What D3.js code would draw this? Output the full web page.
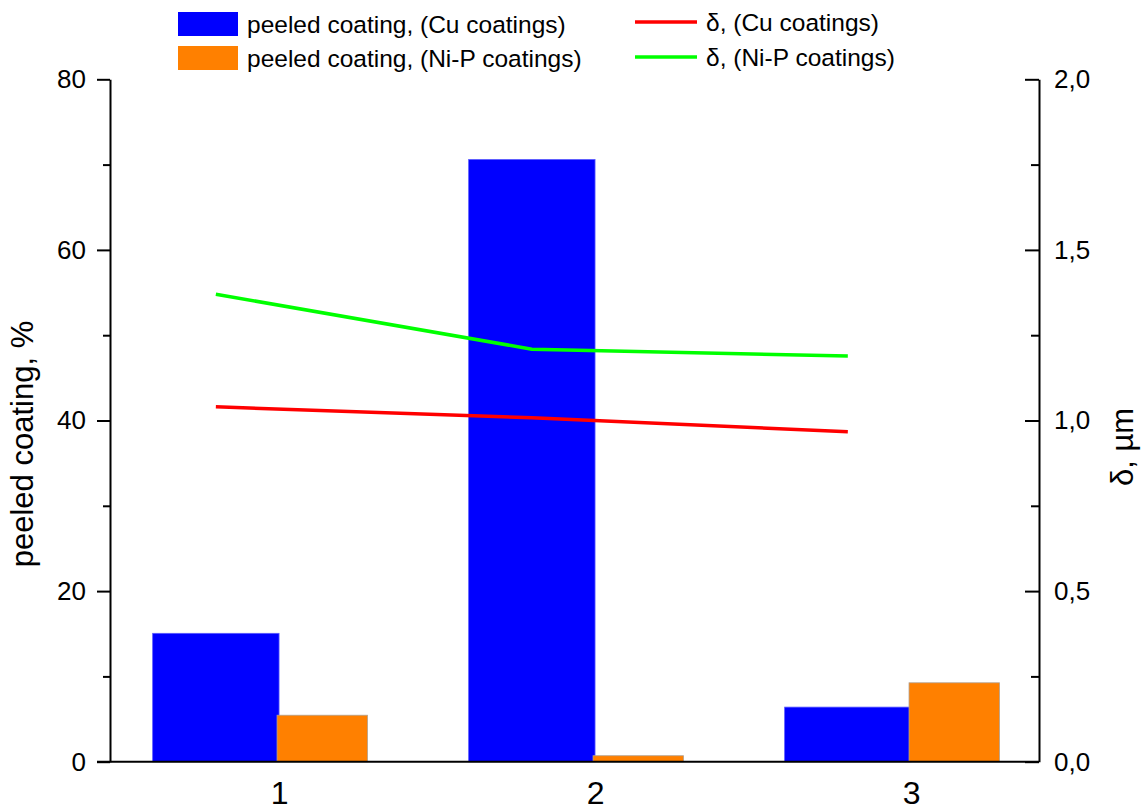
<!DOCTYPE html>
<html>
<head>
<meta charset="utf-8">
<script src="https://cdn.jsdelivr.net/npm/d3@7"></script>
<style>
  body { margin: 0; background: #fff; }
  svg { display: block; font-family: "Liberation Sans", Arial, sans-serif; }
  .axis path, .axis line { stroke: #000; stroke-width: 2; }
  .axis text { fill: #000; }
</style>
</head>
<body>
<svg width="1145" height="812"></svg>
<script>
// data
var categories = [1, 2, 3];
var peeledCu = [15.05, 70.6, 6.4];     // %
var peeledNiP = [5.45, 0.7, 9.25];     // %
var deltaCu = [1.04, 1.008, 0.967];    // µm
var deltaNiP = [1.37, 1.209, 1.189];   // µm
var leftTicks = [0, 20, 40, 60, 80];
var leftMinor = [10, 30, 50, 70];
var rightTicks = [0, 0.5, 1.0, 1.5, 2.0];
var rightMinor = [0.25, 0.75, 1.25, 1.75];

var svg = d3.select("svg"),
    pLeft = 110, pRight = 1039, pTop = 79.3, pBottom = 761.7;

var x = d3.scaleLinear().domain([0.465, 3.405]).range([pLeft, pRight]),
    y = d3.scaleLinear().domain([0, 80]).range([pBottom, pTop]),
    y2 = d3.scaleLinear().domain([0, 2]).range([pBottom, pTop]);

var comma = function(d) { return d3.format(".1f")(d).replace(".", ","); };

// bars
var blueW = 0.4, orangeW = 0.28;
svg.append("g").selectAll("rect.cu")
  .data(categories)
  .enter().append("rect")
    .attr("x", function(d) { return x(d - blueW); })
    .attr("width", function(d) { return x(d) - x(d - blueW); })
    .attr("y", function(d, i) { return y(peeledCu[i]); })
    .attr("height", function(d, i) { return y(0) - y(peeledCu[i]); })
    .attr("fill", "#0000ff")
    .attr("stroke", "#5a5aff").attr("stroke-width", 0.8);

svg.append("g").selectAll("rect.nip")
  .data(categories)
  .enter().append("rect")
    .attr("x", function(d) { return x(d) - 2; })
    .attr("width", function(d) { return x(d + orangeW) - x(d) + 2; })
    .attr("y", function(d, i) { return y(peeledNiP[i]); })
    .attr("height", function(d, i) { return y(0) - y(peeledNiP[i]); })
    .attr("fill", "#ff8000")
    .attr("stroke", "#b0a090").attr("stroke-width", 0.8);

// lines at blue bar centres
var line = function(vals) {
  return d3.line()
    .x(function(d) { return x(d - blueW / 2); })
    .y(function(d, i) { return y2(vals[i]); })(categories);
};
svg.append("path").attr("d", line(deltaNiP))
  .attr("fill", "none").attr("stroke", "#00ff00").attr("stroke-width", 3.5);
svg.append("path").attr("d", line(deltaCu))
  .attr("fill", "none").attr("stroke", "#ff0000").attr("stroke-width", 3.5);

// left axis
var gl = svg.append("g").attr("class", "axis")
  .attr("transform", "translate(" + pLeft + ",0)")
  .call(d3.axisLeft(y).tickValues(leftTicks).tickSize(13).tickPadding(11).tickSizeOuter(0));
gl.selectAll("text").style("font-size", "26px");
svg.append("g").attr("class", "axis")
  .attr("transform", "translate(" + pLeft + ",0)")
  .call(d3.axisLeft(y).tickValues(leftMinor).tickSize(7).tickFormat("").tickSizeOuter(0))
  .select(".domain").remove();

// right axis, ticks inward
var gr = svg.append("g").attr("class", "axis")
  .attr("transform", "translate(" + pRight + ",0)")
  .call(d3.axisRight(y2).tickValues(rightTicks).tickSize(-14).tickPadding(15)
    .tickFormat(comma).tickSizeOuter(0));
gr.selectAll("text").style("font-size", "26px");
svg.append("g").attr("class", "axis")
  .attr("transform", "translate(" + pRight + ",0)")
  .call(d3.axisRight(y2).tickValues(rightMinor).tickSize(-8).tickFormat("").tickSizeOuter(0))
  .select(".domain").remove();

// bottom axis
var gb = svg.append("g").attr("class", "axis")
  .attr("transform", "translate(0," + pBottom + ")")
  .call(d3.axisBottom(x).tickValues(categories).tickSize(0).tickPadding(20)
    .tickFormat(d3.format("d")).tickSizeOuter(0));
gb.select(".domain").attr("d", "M" + (pLeft - 13) + ",0H" + pRight);
gb.selectAll("text").style("font-size", "32px").attr("dy", "0.71em");

// axis titles
svg.append("text")
  .attr("transform", "translate(33,444) rotate(-90)")
  .attr("text-anchor", "middle")
  .style("font-size", "31px")
  .text("peeled coating, %");
svg.append("text")
  .attr("transform", "translate(1133,447) rotate(-90)")
  .attr("text-anchor", "middle")
  .style("font-size", "31px")
  .text("\u03b4, \u00b5m");

// legend
var barLegend = [
  {label: "peeled coating, (Cu coatings)", color: "#0000ff"},
  {label: "peeled coating, (Ni-P coatings)", color: "#ff8000"}
];
var lineLegend = [
  {label: "\u03b4, (Cu coatings)", color: "#ff0000"},
  {label: "\u03b4, (Ni-P coatings)", color: "#00ff00"}
];
var lg = svg.append("g").selectAll("g").data(barLegend).enter().append("g")
  .attr("transform", function(d, i) { return "translate(178," + (12 + i * 34) + ")"; });
lg.append("rect").attr("width", 60).attr("height", 24).attr("fill", function(d) { return d.color; });
lg.append("text").attr("x", 69).attr("y", 12).attr("dy", "0.35em")
  .style("font-size", "24.5px").text(function(d) { return d.label; });

var ll = svg.append("g").selectAll("g").data(lineLegend).enter().append("g")
  .attr("transform", function(d, i) { return "translate(635," + (22 + i * 35) + ")"; });
ll.append("line").attr("x1", 0).attr("x2", 62)
  .attr("stroke", function(d) { return d.color; }).attr("stroke-width", 3.5);
ll.append("text").attr("x", 71).attr("dy", "0.35em")
  .style("font-size", "24.5px").text(function(d) { return d.label; });
</script>
</body>
</html>
